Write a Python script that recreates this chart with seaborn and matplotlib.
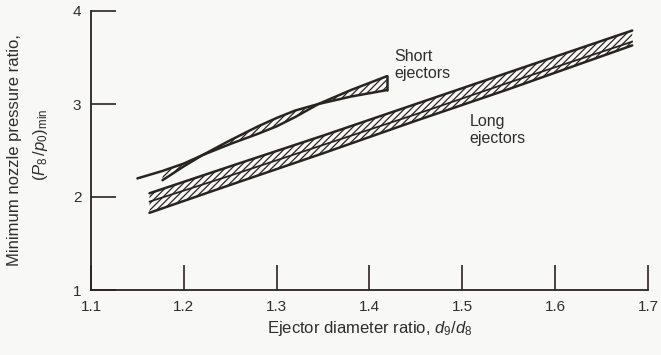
import numpy as np
import pandas as pd
import matplotlib
matplotlib.use("Agg")
import matplotlib.pyplot as plt
import seaborn as sns

# Short ejectors: the two boundary curves of the band
short_x = [1.150, 1.177, 1.200, 1.220, 1.250, 1.280, 1.300, 1.320, 1.345, 1.380, 1.419]
short_a = [2.20, 2.28, 2.36, 2.45, 2.61, 2.76, 2.85, 2.93, 3.00, 3.15, 3.30]
short_b = [np.nan, 2.18, 2.33, 2.45, 2.57, 2.68, 2.76, 2.86, 3.00, 3.08, 3.15]

# Long ejectors: upper, middle and lower boundary curves
long_x = [1.163, 1.250, 1.350, 1.450, 1.550, 1.683]
long_upper = [2.04, 2.33, 2.66, 3.00, 3.34, 3.79]
long_middle = [1.95, 2.23, 2.56, 2.89, 3.23, 3.67]
long_lower = [1.83, 2.13, 2.47, 2.82, 3.16, 3.63]

x_ticks = [1.1, 1.2, 1.3, 1.4, 1.5, 1.6, 1.7]
y_ticks = [1, 2, 3, 4]

ink = "#2a2420"
bg = "#f8f8f6"
txt = "#2e2e2e"

sns.set_style("white")
plt.rcParams["font.family"] = ["Liberation Sans", "DejaVu Sans"]
plt.rcParams["mathtext.fontset"] = "custom"
plt.rcParams["mathtext.rm"] = "Liberation Sans"
plt.rcParams["mathtext.it"] = "Liberation Sans:italic"
plt.rcParams["hatch.linewidth"] = 0.9

fig = plt.figure(figsize=(6.61, 3.55), dpi=100, facecolor=bg)
ax = fig.add_axes([91 / 661, 1 - 290 / 355, (648 - 91) / 661, (290 - 11) / 355])
ax.set_facecolor(bg)

short = pd.DataFrame({"x": short_x, "a": short_a, "b": short_b})
long_ = pd.DataFrame({"x": long_x, "upper": long_upper,
                      "middle": long_middle, "lower": long_lower})

# hatched fills
sb = short.dropna()
ax.fill_between(sb["x"], sb["a"], sb["b"], facecolor="none", edgecolor=ink,
                hatch="/////", linewidth=0)
ax.fill_between(long_["x"], long_["upper"], long_["middle"], facecolor="none",
                edgecolor=ink, hatch="/////", linewidth=0)
ax.fill_between(long_["x"], long_["middle"], long_["lower"], facecolor="none",
                edgecolor=ink, hatch="/////", linewidth=0)

# boundary curves
for col in ["a", "b"]:
    sns.lineplot(data=short, x="x", y=col, ax=ax, color=ink, lw=1.8)
for col in ["upper", "middle", "lower"]:
    sns.lineplot(data=long_, x="x", y=col, ax=ax, color=ink,
                 lw=1.3 if col == "middle" else 1.8)
# closing edge of the short band
ax.plot([short_x[-1], short_x[-1]], [short_b[-1], short_a[-1]], color=ink, lw=1.8)

ax.set_xlim(1.1, 1.7)
ax.set_ylim(1, 4)
ax.set_xticks(x_ticks)
ax.set_yticks(y_ticks)
ax.set_xticklabels([f"{v:.1f}" for v in x_ticks])
ax.set_yticklabels([str(v) for v in y_ticks])
ax.tick_params(axis="both", direction="in", length=18, width=1.2, color=ink,
               labelsize=11, labelcolor=txt, bottom=True, left=True)
ax.tick_params(axis="x", pad=7)
ax.tick_params(axis="y", pad=7)
for s in ["top", "right"]:
    ax.spines[s].set_visible(False)
for s in ["left", "bottom"]:
    ax.spines[s].set_color(ink)
    ax.spines[s].set_linewidth(1.3)

ax.set_ylabel("")
ax.set_xlabel(r"Ejector diameter ratio, $d_9/d_8$", fontsize=12, color=txt,
              labelpad=4)
fig.text(15 / 661, 0.5 + (355 / 2 - 150) / 355, "Minimum nozzle pressure ratio,",
         rotation=90, ha="center", va="center", fontsize=12, color=txt)
fig.text(40 / 661, 0.5 + (355 / 2 - 145) / 355, r"$(P_8\,/p_0)_{\mathrm{min}}$",
         rotation=90, ha="center", va="center", fontsize=12, color=txt)

ax.text(1.427, 3.42, "Short\nejectors", ha="left", va="center", fontsize=11.5,
        color=txt, linespacing=1.1)
ax.text(1.508, 2.72, "Long\nejectors", ha="left", va="center", fontsize=11.5,
        color=txt, linespacing=1.1)

fig.savefig("out.png", dpi=100, facecolor=bg)
